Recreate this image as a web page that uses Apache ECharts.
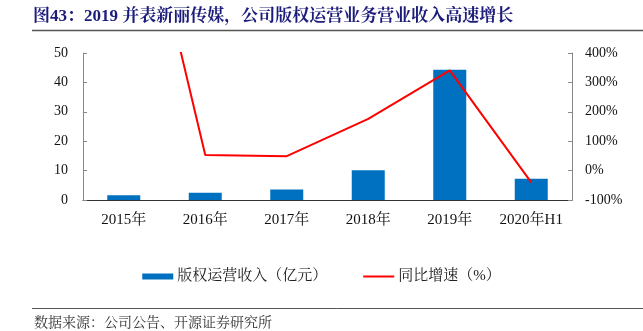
<!DOCTYPE html>
<html><head><meta charset="utf-8">
<script src="https://cdn.jsdelivr.net/npm/echarts@6/dist/echarts.min.js"></script>
<style>html,body{margin:0;padding:0;background:#fff}#c{width:643px;height:331px}</style>
</head><body><div id="c"></div>
<script>
var categories = ['2015年','2016年','2017年','2018年','2019年','2020年H1'];
var revenue = [1.6, 2.5, 3.6, 10.1, 44.3, 7.2];
var growth = [1220, 53, 49, 176, 341, -40];
var leftTicks = [0, 50, 10];
var rightTicks = [-100, 400, 100];

var serif = '"Liberation Serif","Times New Roman","Noto Serif CJK SC","Noto Sans CJK SC",serif';
var chart = echarts.init(document.getElementById('c'), null, {renderer:'canvas'});
chart.setOption({
  animation:false,
  backgroundColor:'#fff',
  grid:{left:83, right:71, top:53, bottom:131},
  graphic:[
    {type:'text', left:33, top:8, style:{text:'图43：2019 并表新丽传媒，公司版权运营业务营业收入高速增长', font:'bold 17px '+serif, fill:'#1c1c7a'}},
    {type:'line', shape:{x1:32,y1:30.5,x2:643,y2:30.5}, style:{stroke:'#555', lineWidth:1.5}},
    {type:'line', shape:{x1:32,y1:308.5,x2:643,y2:308.5}, style:{stroke:'#555', lineWidth:1}},
    {type:'text', left:34, top:316, style:{text:'数据来源：公司公告、开源证券研究所', font:'14px '+serif, fill:'#333'}}
  ],
  legend:{
    top:264, left:'center', itemWidth:31, itemHeight:6, itemGap:36, symbolKeepAspect:true,
    textStyle:{fontFamily:serif, fontSize:15, color:'#222', padding:[0,0,0,-1]},
    data:[{name:'版权运营收入（亿元）', icon:'rect'},
          {name:'同比增速（%）', icon:'path://M0,0 L31,0 L31,2 L0,2 Z'}]
  },
  xAxis:{
    type:'category', data:categories,
    axisLine:{lineStyle:{color:'#333', width:1}},
    axisTick:{inside:true, length:5, lineStyle:{color:'#555'}},
    axisLabel:{interval:0, fontFamily:serif, fontSize:15, color:'#111', margin:13}
  },
  yAxis:[
    {type:'value', min:leftTicks[0], max:leftTicks[1], interval:leftTicks[2],
     splitLine:{show:false},
     axisLine:{show:true, lineStyle:{color:'#888'}},
     axisTick:{show:true, inside:true, length:4, lineStyle:{color:'#888'}},
     axisLabel:{fontFamily:serif, fontSize:14, color:'#111', margin:15}},
    {type:'value', min:rightTicks[0], max:rightTicks[1], interval:rightTicks[2],
     splitLine:{show:false},
     axisLine:{show:true, lineStyle:{color:'#888'}},
     axisTick:{show:true, inside:true, length:4, lineStyle:{color:'#888'}},
     axisLabel:{fontFamily:serif, fontSize:14, color:'#111', margin:13, formatter:'{value}%'}}
  ],
  series:[
    {name:'版权运营收入（亿元）', type:'bar', data:revenue, barWidth:33, itemStyle:{color:'#0070C0'}},
    {name:'同比增速（%）', type:'line', yAxisIndex:1, data:growth, symbol:'none', clip:true,
     lineStyle:{color:'#FF0000', width:2}, itemStyle:{color:'#FF0000'}}
  ]
});
</script></body></html>
